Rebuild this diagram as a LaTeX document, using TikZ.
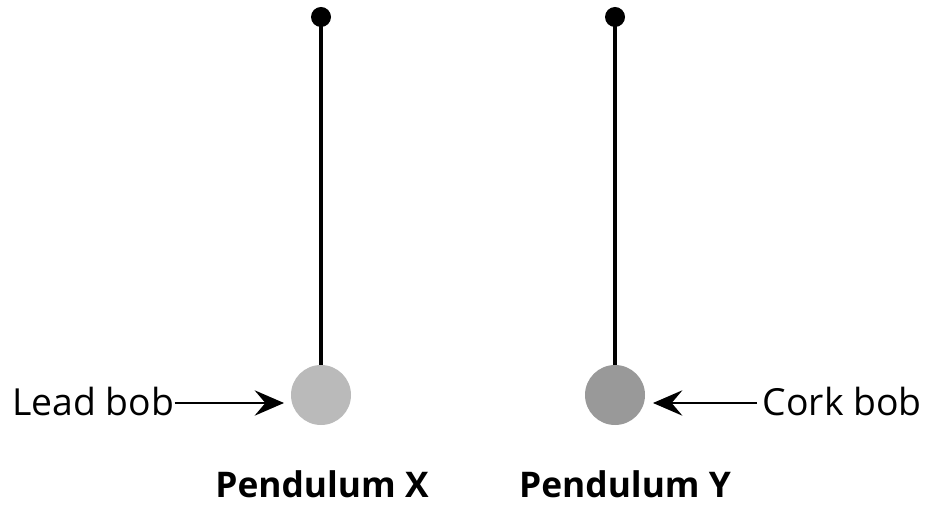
\documentclass[tikz,border=0pt]{standalone}
\usepackage{fontspec}
\setmainfont{Open Sans}
\usetikzlibrary{arrows.meta}

\tikzset{
  pivot/.style={circle,fill=black,inner sep=0pt,minimum size=15pt},
  bob/.style={circle,inner sep=0pt,minimum size=45pt},
  rod/.style={line width=3.6pt},
  pointer/.style={line width=1.5pt,-{Stealth[length=22pt,width=19pt,inset=8pt]}},
  lbl/.style={font=\fontsize{28}{32}\selectfont,inner sep=0pt},
  title/.style={font=\fontsize{26.5}{30}\selectfont\bfseries,inner sep=0pt}
}

\begin{document}
\begin{tikzpicture}[x=0.75pt,y=-0.75pt]
\useasboundingbox (0,0) rectangle (927,505);
% pendulum X
\node[bob,fill=black!27] (bobX) at (321,395) {};
\node[pivot] (pivX) at (321,17) {};
\draw[rod] (pivX.center) -- (bobX.north);
% pendulum Y
\node[bob,fill=black!40] (bobY) at (615,395) {};
\node[pivot] (pivY) at (615,17) {};
\draw[rod] (pivY.center) -- (bobY.north);
% labels
\node[lbl,anchor=base west] (lead) at (12,416) {Lead bob};
\node[lbl,anchor=base east] (cork) at (922,416) {Cork bob};
\coordinate (tipX) at (284,403);
\coordinate (tipY) at (653,403);
\draw[pointer] (lead.east |- tipX) -- (tipX);
\draw[pointer] ([xshift=-4pt]cork.west |- tipY) -- (tipY);
\node[title,anchor=base] (nameX) at (322,497) {Pendulum X};
\node[title,anchor=base] (nameY) at (625,497) {Pendulum Y};
\end{tikzpicture}
\end{document}
